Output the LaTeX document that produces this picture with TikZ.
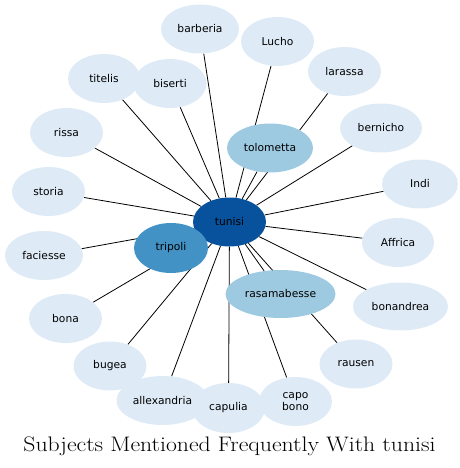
\documentclass[tikz,border=0pt]{standalone}
\usepackage{fontspec}
\newfontfamily\nodefont{DejaVu Sans}
\usetikzlibrary{shapes.geometric}
\pgfdeclarelayer{background}
\pgfsetlayers{background,main}
\definecolor{cdark}{HTML}{08519C}
\definecolor{cmid}{HTML}{4292C6}
\definecolor{clmid}{HTML}{9ECAE1}
\definecolor{clight}{HTML}{DEEBF7}
\tikzset{
  bub/.style={ellipse, fill=clight, draw=none, inner sep=0pt, minimum width=73pt, minimum height=49pt, font=\nodefont\fontsize{10.7}{12}\selectfont, align=center},
  conn/.style={draw=black, line width=0.8pt}
}
\begin{document}
\begin{tikzpicture}[x=1pt,y=-1pt]
\useasboundingbox (0,0) rectangle (459,468);
\node[bub, fill=cdark] (tunisi) at (229.5,222) {tunisi};
\node[bub, fill=cmid, minimum width=74pt, minimum height=50pt] (tripoli) at (171,248) {tripoli};
\node[bub, fill=clmid, minimum width=86pt] (tolometta) at (270,148) {tolometta};
\node[bub, fill=clmid, minimum width=110pt, minimum height=48pt] (rasamabesse) at (280.5,294) {rasamabesse};
\node[bub, minimum width=78pt] (barberia) at (200,29) {barberia};
\node[bub] (Lucho) at (277.5,41.5) {Lucho};
\node[bub] (larassa) at (344.5,71.5) {larassa};
\node[bub, minimum width=82pt] (bernicho) at (381,128) {bernicho};
\node[bub, minimum width=76pt] (Indi) at (420,184) {Indi};
\node[bub, minimum width=72pt] (Affrica) at (398,242.5) {Affrica};
\node[bub, minimum width=95pt, minimum height=48pt] (bonandrea) at (400.5,306.5) {bonandrea};
\node[bub] (rausen) at (356,364) {rausen};
\node[bub, minimum width=92pt] (allexandria) at (162.5,400.5) {allexandria};
\node[bub] (capobono) at (295.5,401.5) {capo\\bono};
\node[bub, minimum height=50pt] (capulia) at (228.5,408) {capulia};
\node[bub] (bugea) at (110,366) {bugea};
\node[bub] (bona) at (65.5,318.5) {bona};
\node[bub, minimum width=78pt] (faciesse) at (44,255.5) {faciesse};
\node[bub] (storia) at (48.5,191.5) {storia};
\node[bub] (rissa) at (66.5,132.5) {rissa};
\node[bub, minimum width=72pt] (titelis) at (104,78.5) {titelis};
\node[bub] (biserti) at (170,83.5) {biserti};
\begin{pgfonlayer}{background}
\foreach \t in {tripoli,tolometta,rasamabesse,barberia,Lucho,larassa,bernicho,Indi,Affrica,bonandrea,rausen,allexandria,capobono,capulia,bugea,bona,faciesse,storia,rissa,titelis,biserti}
  \draw[conn] (tunisi) -- (\t);
\end{pgfonlayer}
\node[anchor=base, font=\fontsize{21}{25}\selectfont, inner sep=0pt, xscale=1.13] (title) at (229.5,451) {Subjects Mentioned Frequently With tunisi};
\end{tikzpicture}
\end{document}
